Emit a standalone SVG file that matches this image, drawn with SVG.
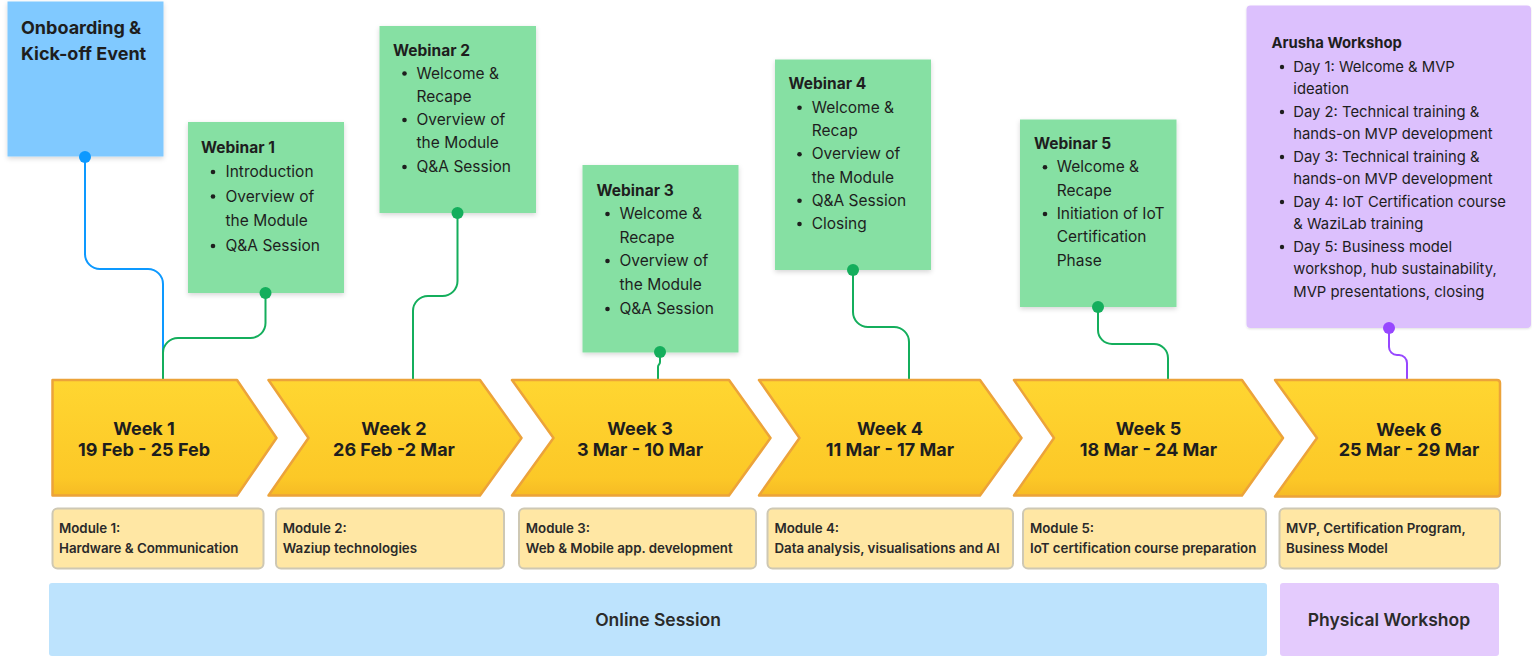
<svg xmlns="http://www.w3.org/2000/svg" width="1532" height="657" viewBox="0 0 1532 657">
<defs>
<filter id="sh" x="-10%" y="-10%" width="125%" height="125%">
<feDropShadow dx="0" dy="2" stdDeviation="2.5" flood-color="#000" flood-opacity="0.16"/>
</filter>
<filter id="sh2" x="-10%" y="-10%" width="125%" height="125%">
<feDropShadow dx="0" dy="1" stdDeviation="1" flood-color="#000" flood-opacity="0.12"/>
</filter>
<linearGradient id="yg" x1="0" y1="0" x2="0" y2="1">
<stop offset="0" stop-color="#FFD631"/>
<stop offset="0.85" stop-color="#FCC827"/>
<stop offset="1" stop-color="#F6BB25"/>
</linearGradient>
</defs>
<style>
text{font-family:Inter,"Noto Sans","Liberation Sans",sans-serif;fill:#1E1E1E}
.green{fill:#86E0A3}
.t{font-size:15.5px;font-weight:700}
.b{font-size:15.5px;font-weight:400}
.p{font-size:14.8px;font-weight:400}
.pt{font-size:14.8px;font-weight:700}
.wk{fill:url(#yg);stroke:#ECA33A;stroke-width:2.5;stroke-linejoin:round}
.wt{font-size:18px;font-weight:700;text-anchor:middle}
.mod{fill:#FFE7A4;stroke:#CEC8B4;stroke-width:2}
.mt{font-size:13.3px;font-weight:600;fill:#2A2A2A}
.bar{font-size:17.5px;font-weight:600;text-anchor:middle;fill:#2B2B2B}
.conn{fill:none;stroke-width:2}
</style>

<g id="onboarding">
<rect x="7.5" y="1.5" width="156" height="155" fill="#80C9FF" filter="url(#sh)"/>
<text x="21" y="34" style="font-size:18px;font-weight:700">Onboarding &amp;</text>
<text x="21" y="60" style="font-size:18px;font-weight:700">Kick-off Event</text>
</g>

<g id="webinar1">
<rect class="green" x="188" y="122" width="156" height="171" filter="url(#sh)"/>
<text class="t" x="201" y="152.5">Webinar 1</text>
<circle cx="213" cy="172" r="2.3" fill="#1E1E1E"/>
<circle cx="213" cy="196.5" r="2.3" fill="#1E1E1E"/>
<circle cx="213" cy="246" r="2.3" fill="#1E1E1E"/>
<text class="b" x="225.5" y="177">Introduction</text>
<text class="b" x="225.5" y="201.5">Overview of</text>
<text class="b" x="225.5" y="226">the Module</text>
<text class="b" x="225.5" y="250.7">Q&amp;A Session</text>
</g>

<g id="webinar2">
<rect class="green" x="379.5" y="26" width="156.5" height="187" filter="url(#sh)"/>
<text class="t" x="393" y="55.5">Webinar 2</text>
<circle cx="404.5" cy="73.5" r="2.3" fill="#1E1E1E"/>
<circle cx="404.5" cy="120" r="2.3" fill="#1E1E1E"/>
<circle cx="404.5" cy="167" r="2.3" fill="#1E1E1E"/>
<text class="b" x="416.5" y="78.5">Welcome &amp;</text>
<text class="b" x="416.5" y="101.8">Recape</text>
<text class="b" x="416.5" y="125">Overview of</text>
<text class="b" x="416.5" y="148.4">the Module</text>
<text class="b" x="416.5" y="171.7">Q&amp;A Session</text>
</g>

<g id="webinar3">
<rect class="green" x="582.5" y="165" width="156" height="187.5" filter="url(#sh)"/>
<text class="t" x="596.5" y="195.5">Webinar 3</text>
<circle cx="607.5" cy="214" r="2.3" fill="#1E1E1E"/>
<circle cx="607.5" cy="261" r="2.3" fill="#1E1E1E"/>
<circle cx="607.5" cy="309" r="2.3" fill="#1E1E1E"/>
<text class="b" x="619.5" y="219.2">Welcome &amp;</text>
<text class="b" x="619.5" y="242.8">Recape</text>
<text class="b" x="619.5" y="266.4">Overview of</text>
<text class="b" x="619.5" y="290">the Module</text>
<text class="b" x="619.5" y="313.7">Q&amp;A Session</text>
</g>

<g id="webinar4">
<rect class="green" x="775" y="59.5" width="156" height="210.5" filter="url(#sh)"/>
<text class="t" x="788.5" y="89">Webinar 4</text>
<circle cx="799.5" cy="107.7" r="2.3" fill="#1E1E1E"/>
<circle cx="799.5" cy="154.3" r="2.3" fill="#1E1E1E"/>
<circle cx="799.5" cy="200.7" r="2.3" fill="#1E1E1E"/>
<circle cx="799.5" cy="224" r="2.3" fill="#1E1E1E"/>
<text class="b" x="811.7" y="112.7">Welcome &amp;</text>
<text class="b" x="811.7" y="136">Recap</text>
<text class="b" x="811.7" y="159.3">Overview of</text>
<text class="b" x="811.7" y="182.7">the Module</text>
<text class="b" x="811.7" y="205.7">Q&amp;A Session</text>
<text class="b" x="811.7" y="229">Closing</text>
</g>

<g id="webinar5">
<rect class="green" x="1020" y="119.5" width="156.5" height="187.5" filter="url(#sh)"/>
<text class="t" x="1034" y="149">Webinar 5</text>
<circle cx="1045" cy="167.3" r="2.3" fill="#1E1E1E"/>
<circle cx="1045" cy="214" r="2.3" fill="#1E1E1E"/>
<text class="b" x="1056.7" y="172.3">Welcome &amp;</text>
<text class="b" x="1056.7" y="195.7">Recape</text>
<text class="b" x="1056.7" y="219">Initiation of IoT</text>
<text class="b" x="1056.7" y="242.3">Certification</text>
<text class="b" x="1056.7" y="265.7">Phase</text>
</g>

<g id="arusha">
<rect x="1246.5" y="5.5" width="284.5" height="322.5" rx="4" fill="#DCC0FD" filter="url(#sh2)"/>
<text class="pt" x="1271.5" y="48.3">Arusha Workshop</text>
<circle cx="1282" cy="67" r="2.2" fill="#1E1E1E"/>
<circle cx="1282" cy="112" r="2.2" fill="#1E1E1E"/>
<circle cx="1282" cy="157" r="2.2" fill="#1E1E1E"/>
<circle cx="1282" cy="202" r="2.2" fill="#1E1E1E"/>
<circle cx="1282" cy="247" r="2.2" fill="#1E1E1E"/>
<text class="p" x="1293.3" y="71.7">Day 1: Welcome &amp; MVP</text>
<text class="p" x="1293.3" y="94">ideation</text>
<text class="p" x="1293.3" y="116.7">Day 2: Technical training &amp;</text>
<text class="p" x="1293.3" y="139.3">hands-on MVP development</text>
<text class="p" x="1293.3" y="161.7">Day 3: Technical training &amp;</text>
<text class="p" x="1293.3" y="184.3">hands-on MVP development</text>
<text class="p" x="1293.3" y="206.7">Day 4: IoT Certification course</text>
<text class="p" x="1293.3" y="229">&amp; WaziLab training</text>
<text class="p" x="1293.3" y="251.7">Day 5: Business model</text>
<text class="p" x="1293.3" y="274">workshop, hub sustainability,</text>
<text class="p" x="1293.3" y="296.7">MVP presentations, closing</text>
</g>

<g id="connectors">
<path class="conn" stroke="#0D99FF" d="M85,157 V254 A15,15 0 0 0 100,269 H148 A15,15 0 0 1 163,284 V381"/>
<circle cx="85" cy="157" r="6" fill="#0D99FF"/>
<path class="conn" stroke="#14AE5C" d="M265.5,293 V323 A15,15 0 0 1 250.5,338 H178 A15,15 0 0 0 163,353 V381"/>
<circle cx="265.5" cy="293" r="6" fill="#14AE5C"/>
<path class="conn" stroke="#14AE5C" d="M457.5,213 V281 A15,15 0 0 1 442.5,296 H428 A15,15 0 0 0 413,311 V381"/>
<circle cx="457.5" cy="213" r="6" fill="#14AE5C"/>
<path class="conn" stroke="#14AE5C" d="M660,352 V362 C660,365 658,364 658,367 V381"/>
<circle cx="660" cy="352" r="6" fill="#14AE5C"/>
<path class="conn" stroke="#14AE5C" d="M853,270 V312 A15,15 0 0 0 868,327 H894 A15,15 0 0 1 909,342 V381"/>
<circle cx="853" cy="270" r="6" fill="#14AE5C"/>
<path class="conn" stroke="#14AE5C" d="M1098,307 V330 A14,14 0 0 0 1112,344 H1154 A14,14 0 0 1 1168,358 V381"/>
<circle cx="1098" cy="307" r="6" fill="#14AE5C"/>
<path class="conn" stroke="#9747FF" d="M1389,328 V347 A8,8 0 0 0 1397,355 H1399 A8,8 0 0 1 1407,363 V381"/>
<circle cx="1389" cy="328" r="6" fill="#9747FF"/>
</g>

<g id="week1">
<path class="wk" d="M52.5,380 H237 L276.5,438 L237,495.5 H52.5 Z"/>
<text class="wt" x="144" y="435">Week 1</text>
<text class="wt" x="144" y="456">19 Feb - 25 Feb</text>
</g>
<g id="week2">
<path class="wk" d="M268.5,380 H480 L521.5,438 L480,495.5 H268.5 L308.5,438 Z"/>
<text class="wt" x="394" y="435">Week 2</text>
<text class="wt" x="394" y="456">26 Feb -2 Mar</text>
</g>
<g id="week3">
<path class="wk" d="M512,380 H729 L770.5,438 L729,495.5 H512 L553.5,438 Z"/>
<text class="wt" x="640" y="435">Week 3</text>
<text class="wt" x="640" y="456">3 Mar - 10 Mar</text>
</g>
<g id="week4">
<path class="wk" d="M759,380 H980 L1021.5,438 L980,495.5 H759 L799.5,438 Z"/>
<text class="wt" x="890" y="435">Week 4</text>
<text class="wt" x="890" y="456">11 Mar - 17 Mar</text>
</g>
<g id="week5">
<path class="wk" d="M1014,380 H1242 L1283,438 L1242,495.5 H1014 L1054,438 Z"/>
<text class="wt" x="1148.5" y="435">Week 5</text>
<text class="wt" x="1148.5" y="456">18 Mar - 24 Mar</text>
</g>
<g id="week6">
<path class="wk" d="M1275,380 H1497 Q1500,380 1500,383 V493.5 Q1500,496.5 1497,496.5 H1275 L1317,438 Z"/>
<text class="wt" x="1409" y="436">Week 6</text>
<text class="wt" x="1409" y="456">25 Mar - 29 Mar</text>
</g>

<g id="module1">
<rect class="mod" x="52.5" y="508.5" width="211" height="60" rx="5"/>
<text class="mt" x="59" y="533">Module 1:</text>
<text class="mt" x="59" y="553.3">Hardware &amp; Communication</text>
</g>
<g id="module2">
<rect class="mod" x="276" y="508.5" width="228" height="60" rx="5"/>
<text class="mt" x="282.7" y="533">Module 2:</text>
<text class="mt" x="282.7" y="553.3">Waziup technologies</text>
</g>
<g id="module3">
<rect class="mod" x="519" y="508.5" width="237" height="60" rx="5"/>
<text class="mt" x="525.8" y="533">Module 3:</text>
<text class="mt" x="525.8" y="553.3">Web &amp; Mobile app. development</text>
</g>
<g id="module4">
<rect class="mod" x="767.5" y="508.5" width="245.5" height="60" rx="5"/>
<text class="mt" x="774.4" y="533">Module 4:</text>
<text class="mt" x="774.4" y="553.3">Data analysis, visualisations and AI</text>
</g>
<g id="module5">
<rect class="mod" x="1023" y="508.5" width="243" height="60" rx="5"/>
<text class="mt" x="1030" y="533">Module 5:</text>
<text class="mt" x="1030" y="553.3">IoT certification course preparation</text>
</g>
<g id="module6">
<rect class="mod" x="1279.5" y="508.5" width="220.5" height="60" rx="5"/>
<text class="mt" x="1286" y="533">MVP, Certification Program,</text>
<text class="mt" x="1286" y="553.3">Business Model</text>
</g>

<g id="online">
<rect x="49" y="583" width="1218" height="73" rx="3" fill="#BDE3FD"/>
<text class="bar" x="658" y="626">Online Session</text>
</g>
<g id="physical">
<rect x="1280" y="583" width="219" height="73" rx="3" fill="#E4CBFD"/>
<text class="bar" x="1389" y="626">Physical Workshop</text>
</g>
</svg>
